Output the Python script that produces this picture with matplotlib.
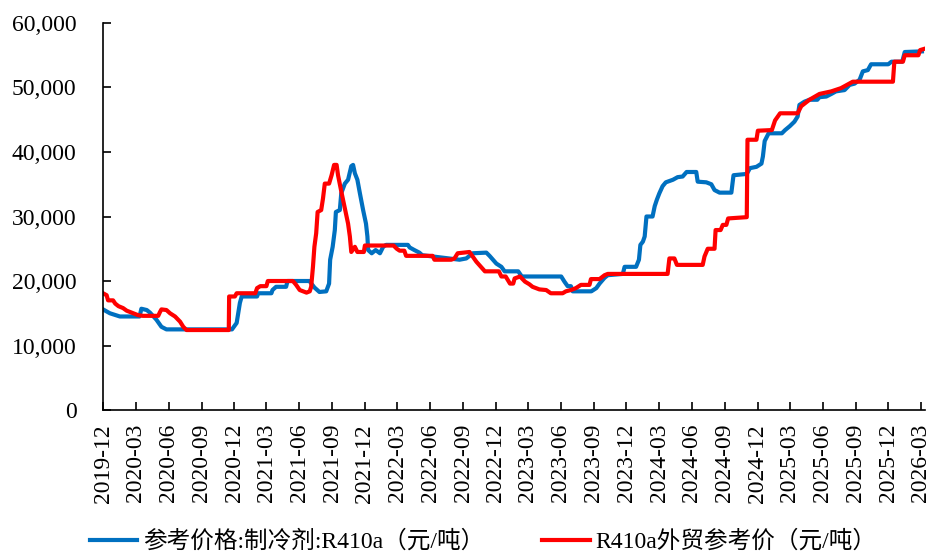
import pandas as pd
import matplotlib.pyplot as plt
import matplotlib.dates as mdates
from matplotlib.ticker import FuncFormatter

# 宋体/Times 没有，用 Liberation Serif + Noto CJK 代替
plt.rcParams['font.family'] = ['Liberation Serif', 'Noto Sans CJK SC']

# 参考价格:制冷剂:R410a（元/吨）
blue_dates = [
    '2019-12-01', '2019-12-20', '2020-01-17', '2020-03-12', '2020-03-17', '2020-04-01',
    '2020-04-10', '2020-04-28', '2020-05-12', '2020-05-26', '2020-11-25', '2020-12-08',
    '2020-12-11', '2020-12-17', '2020-12-22', '2021-02-03', '2021-02-06', '2021-03-15',
    '2021-03-18', '2021-03-28', '2021-04-25', '2021-04-29', '2021-06-29', '2021-07-13',
    '2021-07-27', '2021-08-15', '2021-08-23', '2021-08-26', '2021-09-02', '2021-09-08',
    '2021-09-11', '2021-09-22', '2021-09-26', '2021-10-06', '2021-10-15', '2021-10-24',
    '2021-10-29', '2021-11-03', '2021-11-10', '2021-11-17', '2021-11-26', '2021-12-04',
    '2021-12-08', '2021-12-10', '2021-12-20', '2021-12-31', '2022-01-12', '2022-01-21',
    '2022-01-29', '2022-03-31', '2022-04-05', '2022-04-18', '2022-05-02', '2022-05-10',
    '2022-06-08', '2022-08-22', '2022-09-10', '2022-09-28', '2022-11-05', '2022-11-14',
    '2022-12-03', '2022-12-17', '2022-12-26', '2023-02-02', '2023-02-12', '2023-06-02',
    '2023-06-11', '2023-06-20', '2023-06-29', '2023-07-04', '2023-08-25', '2023-09-08',
    '2023-09-17', '2023-10-01', '2023-10-10', '2023-11-21', '2023-11-26', '2023-12-28',
    '2024-01-05', '2024-01-09', '2024-01-16', '2024-01-21', '2024-01-26', '2024-02-12',
    '2024-02-18', '2024-02-24', '2024-03-02', '2024-03-11', '2024-03-20', '2024-04-09',
    '2024-04-22', '2024-05-06', '2024-05-17', '2024-06-13', '2024-06-17', '2024-07-11',
    '2024-07-25', '2024-08-03', '2024-08-17', '2024-09-19', '2024-09-25', '2024-11-01',
    '2024-11-10', '2024-11-28', '2024-12-12', '2024-12-16', '2024-12-21', '2025-01-01',
    '2025-02-07', '2025-02-16', '2025-03-01', '2025-03-14', '2025-03-23', '2025-03-28',
    '2025-04-11', '2025-04-25', '2025-05-17', '2025-05-23', '2025-06-11', '2025-06-25',
    '2025-07-08', '2025-08-01', '2025-08-15', '2025-08-29', '2025-09-12', '2025-09-21',
    '2025-10-05', '2025-10-14', '2025-12-01', '2025-12-10', '2026-01-09', '2026-01-16',
    '2026-03-05',
]
blue_values = [
    15600, 15000, 14500, 14500, 15700, 15500,
    15100, 14000, 12900, 12500, 12500, 13500,
    14500, 16600, 17600, 17600, 18100, 18100,
    18600, 19100, 19100, 20000, 20000, 19000,
    18300, 18400, 19600, 23300, 25300, 27900,
    30700, 31000, 33600, 35100, 35700, 37800,
    38000, 36700, 35700, 33600, 31000, 28900,
    26900, 24800, 24300, 24800, 24300, 25300,
    25600, 25600, 25200, 24800, 24400, 24000,
    23800, 23300, 23500, 24300, 24400, 23900,
    22700, 22200, 21500, 21500, 20700, 20700,
    19900, 19200, 19200, 18400, 18400, 18900,
    19600, 20500, 20900, 21100, 22200, 22200,
    23300, 25600, 26100, 26900, 30000, 30000,
    31600, 32600, 33600, 34700, 35300, 35700,
    36100, 36200, 36900, 36900, 35400, 35300,
    35000, 34100, 33700, 33700, 36400, 36600,
    37500, 37700, 38200, 39300, 41700, 42900,
    42900, 43400, 44000, 44700, 45500, 47300,
    47800, 48100, 48100, 48500, 48600, 49000,
    49400, 49600, 50400, 50600, 51200, 52500,
    52700, 53600, 53600, 54000, 54000, 55500,
    55600,
]

# R410a外贸参考价（元/吨）
red_dates = [
    '2019-12-01', '2019-12-11', '2019-12-15', '2019-12-29', '2020-01-04', '2020-01-13',
    '2020-01-26', '2020-02-05', '2020-02-23', '2020-03-08', '2020-03-21', '2020-05-03',
    '2020-05-08', '2020-05-12', '2020-05-26', '2020-06-05', '2020-06-19', '2020-07-03',
    '2020-07-12', '2020-07-21', '2020-11-16', '2020-11-17', '2020-12-03', '2020-12-08',
    '2021-01-29', '2021-02-03', '2021-02-12', '2021-03-01', '2021-03-05', '2021-05-14',
    '2021-05-23', '2021-06-02', '2021-06-21', '2021-06-30', '2021-07-04', '2021-07-09',
    '2021-07-13', '2021-07-18', '2021-07-22', '2021-08-01', '2021-08-06', '2021-08-11',
    '2021-08-23', '2021-08-30', '2021-09-06', '2021-09-13', '2021-09-17', '2021-09-26',
    '2021-10-06', '2021-10-15', '2021-10-20', '2021-10-24', '2021-11-03', '2021-11-10',
    '2021-11-28', '2021-12-01', '2022-02-19', '2022-02-28', '2022-03-08', '2022-03-21',
    '2022-03-26', '2022-06-08', '2022-06-13', '2022-07-30', '2022-08-08', '2022-08-17',
    '2022-09-19', '2022-09-28', '2022-10-08', '2022-10-21', '2022-11-01', '2022-12-10',
    '2022-12-17', '2022-12-29', '2023-01-10', '2023-01-19', '2023-01-23', '2023-02-07',
    '2023-02-21', '2023-03-05', '2023-03-14', '2023-04-02', '2023-04-21', '2023-05-04',
    '2023-06-06', '2023-06-15', '2023-06-29', '2023-07-13', '2023-07-27', '2023-08-20',
    '2023-08-24', '2023-09-17', '2023-10-01', '2023-10-10', '2024-03-25', '2024-03-30',
    '2024-04-13', '2024-04-20', '2024-07-01', '2024-07-06', '2024-07-15', '2024-08-03',
    '2024-08-06', '2024-08-20', '2024-08-26', '2024-09-05', '2024-09-10', '2024-11-01',
    '2024-11-03', '2024-11-28', '2024-12-02', '2025-01-10', '2025-01-19', '2025-02-02',
    '2025-03-23', '2025-04-02', '2025-04-25', '2025-05-23', '2025-06-25', '2025-07-22',
    '2025-08-24', '2025-12-14', '2025-12-18', '2026-01-11', '2026-01-16', '2026-02-23',
    '2026-02-28', '2026-03-12',
]
red_values = [
    18100, 17800, 17000, 17000, 16500, 16100,
    15800, 15400, 15000, 14700, 14600, 14600,
    15200, 15600, 15500, 15000, 14500, 13700,
    12900, 12400, 12400, 17600, 17600, 18100,
    18100, 18900, 19200, 19200, 20000, 20000,
    19400, 18600, 18200, 18400, 19100, 22200,
    25300, 27400, 30700, 31000, 32800, 35100,
    35100, 36400, 38000, 38000, 36400, 33900,
    31300, 28900, 26900, 24500, 25300, 24500,
    24500, 25500, 25500, 25000, 24700, 24700,
    23900, 23900, 23300, 23300, 23500, 24300,
    24500, 23800, 23000, 22200, 21500, 21500,
    20700, 20700, 19600, 19600, 20400, 20700,
    19900, 19500, 19100, 18700, 18600, 18100,
    18100, 18400, 18600, 18900, 19400, 19400,
    20300, 20300, 20900, 21100, 21100, 23500,
    23500, 22500, 22500, 23800, 25000, 25000,
    27900, 27900, 28700, 28700, 29700, 29900,
    41900, 41900, 43300, 43400, 44900, 46000,
    46000, 47100, 48100, 49000, 49400, 49900,
    50900, 50900, 54000, 54000, 55000, 55000,
    55800, 56000,
]

series_labels = ['参考价格:制冷剂:R410a（元/吨）', 'R410a外贸参考价（元/吨）']
series_colors = ['#0070C0', '#FF0000']

fig = plt.figure(figsize=(9.3, 5.54), dpi=100)
ax = fig.add_axes([0.1108, 0.2599, 0.884, 0.6986])

ax.plot(pd.to_datetime(blue_dates), blue_values, color=series_colors[0], lw=3,
        label=series_labels[0])
ax.plot(pd.to_datetime(red_dates), red_values, color=series_colors[1], lw=3,
        label=series_labels[1])

ax.set_xlim(pd.Timestamp('2019-12-01'), pd.Timestamp('2026-03-14'))
ax.set_ylim(0, 60000)
ax.set_yticks(range(0, 60001, 10000))
ax.yaxis.set_major_formatter(FuncFormatter(lambda v, p: f'{int(v):,}'))

ax.xaxis.set_major_locator(mdates.MonthLocator(bymonth=[3, 6, 9, 12]))
ax.xaxis.set_major_formatter(mdates.DateFormatter('%Y-%m'))
plt.setp(ax.get_xticklabels(), rotation=90, ha='center')

for s in ['top', 'right']:
    ax.spines[s].set_visible(False)
for s in ['left', 'bottom']:
    ax.spines[s].set_linewidth(1.2)

ax.tick_params(direction='in', length=6, width=1.2, labelsize=17)
ax.tick_params(axis='y', pad=19)
ax.tick_params(axis='x', pad=10)

fig.legend(loc='center left', bbox_to_anchor=(0.097, 0.022), ncol=2, frameon=False,
           fontsize=17, handlelength=2.0, handletextpad=0.25, columnspacing=2.45,
           borderpad=0, borderaxespad=0)

fig.savefig('out.png', dpi=100)
plt.close(fig)
